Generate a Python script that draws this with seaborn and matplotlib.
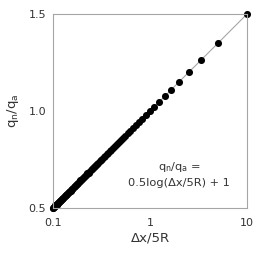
import seaborn as sns
import matplotlib.pyplot as plt
import pandas as pd

# dx/5R values (points at 10/n)
dx_5r = [10, 5, 3.333, 2.5, 2, 1.667, 1.429, 1.25, 1.111, 1,
         0.909, 0.833, 0.769, 0.714, 0.667, 0.625, 0.588, 0.556, 0.526, 0.5,
         0.476, 0.455, 0.435, 0.417, 0.4, 0.385, 0.370, 0.357, 0.345, 0.333,
         0.323, 0.3125, 0.303, 0.294, 0.286, 0.278, 0.270, 0.263, 0.256, 0.25,
         0.244, 0.238, 0.233, 0.227, 0.222, 0.217, 0.213, 0.208, 0.204, 0.2,
         0.196, 0.192, 0.189, 0.185, 0.182, 0.179, 0.175, 0.172, 0.169, 0.167,
         0.164, 0.161, 0.159, 0.156, 0.154, 0.152, 0.149, 0.147, 0.145, 0.143,
         0.141, 0.139, 0.137, 0.135, 0.133, 0.132, 0.130, 0.128, 0.127, 0.125,
         0.123, 0.122, 0.120, 0.119, 0.118, 0.116, 0.115, 0.114, 0.112, 0.111,
         0.110, 0.109, 0.108, 0.106, 0.105, 0.104, 0.103, 0.102, 0.101, 0.1]

qn_qa = [1.5, 1.349, 1.261, 1.199, 1.151, 1.111, 1.077, 1.048, 1.023, 1.0,
         0.979, 0.960, 0.943, 0.927, 0.912, 0.898, 0.885, 0.872, 0.861, 0.849,
         0.839, 0.829, 0.819, 0.810, 0.801, 0.793, 0.784, 0.776, 0.769, 0.761,
         0.754, 0.747, 0.741, 0.734, 0.728, 0.722, 0.716, 0.710, 0.704, 0.699,
         0.694, 0.688, 0.683, 0.678, 0.673, 0.669, 0.664, 0.659, 0.655, 0.651,
         0.646, 0.642, 0.638, 0.634, 0.630, 0.626, 0.622, 0.618, 0.615, 0.611,
         0.607, 0.604, 0.600, 0.597, 0.594, 0.590, 0.587, 0.584, 0.581, 0.577,
         0.574, 0.571, 0.568, 0.565, 0.562, 0.560, 0.557, 0.554, 0.551, 0.548,
         0.546, 0.543, 0.540, 0.538, 0.535, 0.533, 0.530, 0.528, 0.525, 0.523,
         0.520, 0.518, 0.516, 0.513, 0.511, 0.509, 0.507, 0.504, 0.502, 0.5]

x_ticks = [0.1, 1, 10]
x_labels = ["0.1", "1", "10"]
y_ticks = [0.5, 1.0, 1.5]
y_labels = ["0.5", "1.0", "1.5"]

sns.set_style("white")
plt.rcParams["font.family"] = ["DejaVu Sans"]

df = pd.DataFrame({"x": dx_5r, "y": qn_qa})

fig = plt.figure(figsize=(2.57, 2.56), dpi=100)
ax = fig.add_axes([0.206, 0.1875, 0.755, 0.7575])

sns.lineplot(data=df, x="x", y="y", color="#a6a6a6", linewidth=0.8, ax=ax, zorder=1)
sns.scatterplot(data=df, x="x", y="y", color="black", s=26, linewidth=0, ax=ax,
                zorder=2, clip_on=False)

ax.set_xscale("log")
ax.set_xlim(0.1, 10)
ax.set_ylim(0.5, 1.5)
ax.set_xticks(x_ticks)
ax.set_xticklabels(x_labels)
ax.set_yticks(y_ticks)
ax.set_yticklabels(y_labels)
ax.minorticks_off()
ax.tick_params(axis="both", length=3, width=0.8, color="#a6a6a6",
               labelsize=8, labelcolor="#333333", pad=2, direction="out")
ax.tick_params(axis="x", pad=4)
for sp in ax.spines.values():
    sp.set_color("#a6a6a6")
    sp.set_linewidth(0.8)

ax.set_xlabel("Δx/5R", fontsize=9.5, color="#333333", labelpad=3)
ax.set_ylabel(r"q$_\mathregular{n}$/q$_\mathregular{a}$", fontsize=9.5, color="#333333", labelpad=5)

ax.text(0.65, 0.175, "q$_\\mathregular{n}$/q$_\\mathregular{a}$ =\n0.5log(Δx/5R) + 1",
        transform=ax.transAxes, ha="center", va="center", fontsize=8.2,
        color="#333333", linespacing=1.45)

fig.savefig("out.png", dpi=100)
